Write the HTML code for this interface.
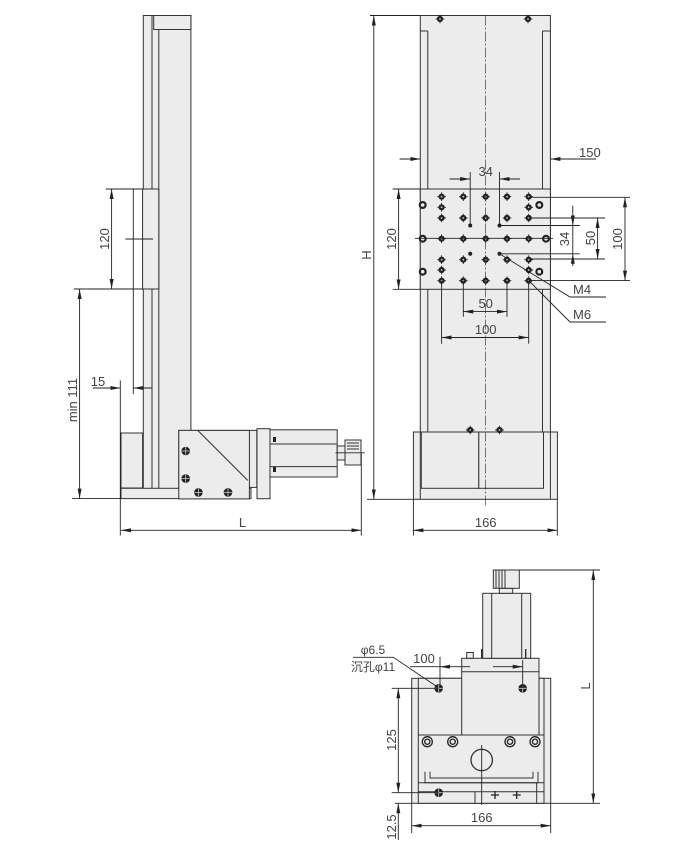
<!DOCTYPE html>
<html><head><meta charset="utf-8"><style>
html,body{margin:0;padding:0;background:#fff;}
svg{display:block;}
text{font-family:"Liberation Sans","Noto Sans CJK SC",sans-serif;font-size:13px;fill:#444;}
</style></head><body>
<svg width="675" height="845" viewBox="0 0 675 845" xmlns="http://www.w3.org/2000/svg">
<defs>
<marker id="a" viewBox="0 0 10 4" refX="10" refY="2" markerWidth="10" markerHeight="4" markerUnits="userSpaceOnUse" orient="auto-start-reverse"><path d="M0,0L10,2L0,4z" fill="#222"/></marker>
<g id="h"><circle r="3.1" fill="#222"/><path d="M-4.3,0H4.3M0,-4.3V4.3" stroke="#222" stroke-width="0.9"/><circle r="0.9" fill="#ccc"/></g>
<g id="r"><circle r="4" fill="#222"/><circle r="1.8" fill="#ececec"/></g>
<g id="s"><circle r="4.3" fill="#222"/><path d="M-4,0H4M0,-4V4" stroke="#ccc" stroke-width="0.8"/></g>
<g id="c"><circle r="5" fill="#ececec" stroke="#222" stroke-width="1.3"/><circle r="2.6" fill="none" stroke="#222" stroke-width="1.3"/></g>
</defs>
<g fill="#ececec" stroke="#333" stroke-width="1">
<!-- SIDE VIEW -->
<rect x="143.3" y="15.5" width="47.6" height="473"/>
<line x1="152" y1="15.5" x2="152" y2="488"/>
<line x1="158.8" y1="29" x2="158.8" y2="488"/>
<rect x="153.7" y="15.5" width="37.2" height="14"/>
<rect x="142.6" y="189" width="16.2" height="100"/>
<rect x="121" y="433" width="21.6" height="55"/>
<rect x="121" y="488.3" width="130" height="10.3"/>
<rect x="257" y="428.7" width="13" height="70"/>
<rect x="178.8" y="430.4" width="78" height="57"/>
<rect x="178.8" y="430.4" width="70.6" height="68.5"/>
<line x1="197.7" y1="430.4" x2="247.7" y2="480.4"/>
<rect x="270" y="429.8" width="67.2" height="47.2"/>
<line x1="270" y1="444" x2="337.2" y2="444"/>
<line x1="270" y1="466.6" x2="337.2" y2="466.6"/>
<rect x="337.2" y="446" width="8" height="14"/>
<rect x="345" y="440" width="16" height="25"/>
<line x1="347" y1="443" x2="359" y2="443"/><line x1="347" y1="446" x2="359" y2="446"/><line x1="347" y1="449" x2="359" y2="449"/>
<!-- FRONT VIEW -->
<rect x="420.3" y="15.5" width="130.1" height="473.5"/>
<line x1="427.8" y1="31" x2="427.8" y2="432"/>
<line x1="542.5" y1="31" x2="542.5" y2="432"/>
<line x1="420.3" y1="31" x2="427.8" y2="31"/><line x1="542.5" y1="31" x2="550.4" y2="31"/>
<rect x="420.3" y="189" width="130.1" height="100.3"/>
<rect x="413.4" y="432" width="144" height="67.3"/>
<rect x="421.3" y="432" width="57.5" height="56.3"/>
<rect x="478.8" y="432" width="64.7" height="56.3"/>
<line x1="420.3" y1="432" x2="420.3" y2="499.3"/><line x1="550.4" y1="432" x2="550.4" y2="499.3"/>
<!-- TOP VIEW -->
<rect x="411.7" y="678.3" width="139" height="125"/>
<rect x="418.3" y="678.3" width="125.7" height="125"/>
<rect x="461.7" y="658.3" width="77.3" height="76.7"/>
<line x1="461.7" y1="671.7" x2="539" y2="671.7"/>
<line x1="418.3" y1="735" x2="544" y2="735"/>
<path d="M425,771.7V782.7H538V771.7" fill="none"/>
<path d="M430,771.7V778H533V771.7" fill="none"/>
<line x1="418.3" y1="782.7" x2="544" y2="782.7"/>
<line x1="418.3" y1="791.7" x2="544" y2="791.7"/>
<line x1="475" y1="791.7" x2="475" y2="803.3"/>
<line x1="536.7" y1="782.7" x2="536.7" y2="803.3"/>
<rect x="482.7" y="593.3" width="48" height="65"/>
<line x1="491.7" y1="593.3" x2="491.7" y2="658.3"/><line x1="521.7" y1="593.3" x2="521.7" y2="658.3"/>
<rect x="499.3" y="588.3" width="13.4" height="5"/>
<rect x="493.3" y="570" width="26" height="18.3"/>
<line x1="496" y1="570" x2="496" y2="588"/><line x1="499" y1="570" x2="499" y2="588"/><line x1="502" y1="570" x2="502" y2="588"/><line x1="505" y1="570" x2="505" y2="588"/>
<rect x="466.7" y="652.5" width="6.6" height="5.8"/>
<circle cx="481.7" cy="760" r="10.7" fill="none" stroke-width="1.3"/>
</g>
<!-- holes -->
<use href="#s" x="185.7" y="451"/><use href="#s" x="185.7" y="478.6"/><use href="#s" x="198.4" y="492.4"/><use href="#s" x="228" y="492.4"/>
<rect x="273" y="437" width="3" height="5" fill="#222"/><rect x="273" y="467" width="3" height="5" fill="#222"/>
<use href="#h" x="440" y="19"/><use href="#h" x="528" y="19"/>
<g>
<use href="#h" x="441.6" y="196.7"/><use href="#h" x="463.3" y="196.7"/><use href="#h" x="485.7" y="196.7"/><use href="#h" x="507" y="196.7"/><use href="#h" x="528.7" y="196.7"/>
<use href="#h" x="441.6" y="207.3"/><use href="#h" x="528.7" y="207.3"/>
<use href="#h" x="441.6" y="218"/><use href="#h" x="463.3" y="218"/><use href="#h" x="485.7" y="218"/><use href="#h" x="507" y="218"/><use href="#h" x="528.7" y="218"/>
<use href="#h" x="441.6" y="238.7"/><use href="#h" x="463.3" y="238.7"/><use href="#h" x="485.7" y="238.7"/><use href="#h" x="507" y="238.7"/><use href="#h" x="528.7" y="238.7"/>
<use href="#h" x="441.6" y="259.7"/><use href="#h" x="463.3" y="259.7"/><use href="#h" x="485.7" y="259.7"/><use href="#h" x="507" y="259.7"/><use href="#h" x="528.7" y="259.7"/>
<use href="#h" x="441.6" y="270"/><use href="#h" x="528.7" y="270"/>
<use href="#h" x="441.6" y="280.7"/><use href="#h" x="463.3" y="280.7"/><use href="#h" x="485.7" y="280.7"/><use href="#h" x="507" y="280.7"/><use href="#h" x="528.7" y="280.7"/>
<use href="#r" x="422.7" y="205"/><use href="#r" x="539.3" y="205"/><use href="#r" x="422.7" y="271.7"/><use href="#r" x="539.3" y="271.7"/>
<use href="#r" x="422.7" y="238.7"/><use href="#r" x="546" y="238.7"/>
<circle cx="470.2" cy="225.5" r="2" fill="#222"/><circle cx="499.5" cy="225.5" r="2" fill="#222"/><circle cx="470.2" cy="253.8" r="2" fill="#222"/><circle cx="499.5" cy="253.8" r="2" fill="#222"/>
<use href="#h" x="470.2" y="430"/><use href="#h" x="499.5" y="430"/>
</g>
<use href="#c" x="427.3" y="741.7"/><use href="#c" x="452.7" y="741.7"/><use href="#c" x="510" y="741.7"/><use href="#c" x="535" y="741.7"/>
<use href="#s" x="438.7" y="688.3"/><use href="#s" x="522.7" y="688.3"/><use href="#s" x="438.7" y="792.7"/>
<path d="M491,795h8M495,791v8M512.7,795h8M516.7,791v8M481.7,649v9M525.7,649v9" stroke="#222" stroke-width="1.3"/>
<!-- dimension lines -->
<g stroke="#222" stroke-width="0.9" fill="none">
<line x1="105.8" y1="189" x2="142.6" y2="189"/><line x1="73.8" y1="289" x2="142.6" y2="289"/>
<line x1="111.6" y1="189" x2="111.6" y2="289" marker-start="url(#a)" marker-end="url(#a)"/>
<line x1="79.6" y1="289" x2="79.6" y2="498.6" marker-start="url(#a)" marker-end="url(#a)"/>
<line x1="72" y1="498.6" x2="121" y2="498.6"/>
<line x1="133.3" y1="189" x2="133.3" y2="394"/><line x1="125.4" y1="239" x2="153" y2="239"/>
<line x1="92.7" y1="388" x2="120.3" y2="388" marker-end="url(#a)"/>
<line x1="152" y1="388" x2="133.3" y2="388" marker-end="url(#a)"/>
<line x1="120.3" y1="380.5" x2="120.3" y2="535.5"/>
<line x1="121" y1="530.3" x2="361.3" y2="530.3" marker-start="url(#a)" marker-end="url(#a)"/>
<line x1="361.3" y1="454" x2="361.3" y2="535.5"/>
<line x1="335.5" y1="452.8" x2="364.7" y2="452.8"/>
<line x1="370" y1="15.5" x2="420" y2="15.5"/><line x1="367" y1="499.3" x2="413.4" y2="499.3"/>
<line x1="373.8" y1="15.5" x2="373.8" y2="499.3" marker-start="url(#a)" marker-end="url(#a)"/>
<line x1="485.7" y1="15.5" x2="485.7" y2="506" stroke-dasharray="10,2,2,2" stroke-width="0.6"/>
<line x1="415" y1="238.3" x2="553" y2="238.3"/>
<line x1="399.6" y1="159" x2="420.3" y2="159" marker-end="url(#a)"/>
<line x1="596" y1="159" x2="550.4" y2="159" marker-end="url(#a)"/>
<line x1="449.5" y1="179" x2="470.2" y2="179" marker-end="url(#a)"/>
<line x1="520" y1="179" x2="499.5" y2="179" marker-end="url(#a)"/>
<line x1="470.2" y1="172" x2="470.2" y2="225.5"/><line x1="499.5" y1="172" x2="499.5" y2="225.5"/>
<line x1="392.7" y1="189" x2="420.3" y2="189"/><line x1="392.7" y1="289.3" x2="420.3" y2="289.3"/>
<line x1="398.6" y1="189" x2="398.6" y2="289.3" marker-start="url(#a)" marker-end="url(#a)"/>
<line x1="528.7" y1="197.3" x2="630" y2="197.3"/><line x1="528.7" y1="280.6" x2="630" y2="280.6"/>
<line x1="625" y1="197.3" x2="625" y2="280.6" marker-start="url(#a)" marker-end="url(#a)"/>
<line x1="528.7" y1="218" x2="605" y2="218"/><line x1="528.7" y1="259" x2="605" y2="259"/>
<line x1="597.6" y1="218" x2="597.6" y2="259" marker-start="url(#a)" marker-end="url(#a)"/>
<line x1="499.5" y1="225.5" x2="579.7" y2="225.5"/><line x1="499.5" y1="253.8" x2="579.7" y2="253.8"/>
<line x1="572.8" y1="205.6" x2="572.8" y2="225.5" marker-end="url(#a)"/>
<line x1="572.8" y1="266" x2="572.8" y2="253.8" marker-end="url(#a)"/>
<line x1="572.8" y1="225.5" x2="572.8" y2="253.8"/>
<polyline points="499.5,253.8 570,297 606,297"/>
<polyline points="528.7,280.6 570,322 606,322"/>
<line x1="463.3" y1="280.6" x2="463.3" y2="316.8"/><line x1="507" y1="280.6" x2="507" y2="316.8"/>
<line x1="463.3" y1="311.6" x2="507" y2="311.6" marker-start="url(#a)" marker-end="url(#a)"/>
<line x1="441.6" y1="280.6" x2="441.6" y2="343.7"/><line x1="528.7" y1="280.6" x2="528.7" y2="343.7"/>
<line x1="441.6" y1="337.5" x2="528.7" y2="337.5" marker-start="url(#a)" marker-end="url(#a)"/>
<line x1="413.4" y1="499.3" x2="413.4" y2="535.5"/><line x1="557.3" y1="499.3" x2="557.3" y2="535.5"/>
<line x1="413.4" y1="530.3" x2="557.3" y2="530.3" marker-start="url(#a)" marker-end="url(#a)"/>
<!-- top view dims -->
<line x1="519.3" y1="570" x2="600" y2="570"/><line x1="550.7" y1="803.3" x2="600" y2="803.3"/>
<line x1="593.3" y1="570" x2="593.3" y2="803.3" marker-start="url(#a)" marker-end="url(#a)"/>
<line x1="440" y1="656.7" x2="440" y2="688"/><line x1="522.7" y1="660" x2="522.7" y2="688"/>
<line x1="410" y1="666.7" x2="440" y2="666.7"/>
<line x1="470" y1="666.7" x2="440" y2="666.7" marker-end="url(#a)"/>
<line x1="493" y1="666.7" x2="522.7" y2="666.7" marker-end="url(#a)"/>
<polyline points="353,657.3 393.3,657.3 436,686"/>
<line x1="391.7" y1="688.3" x2="438.7" y2="688.3"/><line x1="391.7" y1="792.7" x2="438.7" y2="792.7"/>
<line x1="395" y1="803.3" x2="411.7" y2="803.3"/>
<line x1="398.3" y1="688.3" x2="398.3" y2="792.7" marker-start="url(#a)" marker-end="url(#a)"/>
<line x1="398.3" y1="820" x2="398.3" y2="803.3" marker-end="url(#a)"/>
<line x1="398.3" y1="820" x2="398.3" y2="840"/>
<line x1="481.7" y1="745" x2="481.7" y2="805"/>
<line x1="411.7" y1="803.3" x2="411.7" y2="833"/><line x1="550.7" y1="803.3" x2="550.7" y2="833"/>
<line x1="411.7" y1="825.7" x2="550.7" y2="825.7" marker-start="url(#a)" marker-end="url(#a)"/>
</g>
<!-- labels -->
<text x="109" y="239" text-anchor="middle" transform="rotate(-90 109 239)">120</text>
<text x="77" y="400" text-anchor="middle" transform="rotate(-90 77 400)">min 111</text>
<text x="98" y="386" text-anchor="middle">15</text>
<text x="242.5" y="527" text-anchor="middle">L</text>
<text x="371" y="255" text-anchor="middle" transform="rotate(-90 371 255)">H</text>
<text x="579" y="157">150</text>
<text x="485.7" y="176" text-anchor="middle">34</text>
<text x="396" y="239" text-anchor="middle" transform="rotate(-90 396 239)">120</text>
<text x="569" y="239" text-anchor="middle" transform="rotate(-90 569 239)">34</text>
<text x="595" y="238" text-anchor="middle" transform="rotate(-90 595 238)">50</text>
<text x="622" y="239" text-anchor="middle" transform="rotate(-90 622 239)">100</text>
<text x="573" y="294">M4</text>
<text x="573" y="319">M6</text>
<text x="485.7" y="308" text-anchor="middle">50</text>
<text x="485.7" y="334" text-anchor="middle">100</text>
<text x="485.7" y="527" text-anchor="middle">166</text>
<text x="590" y="686" text-anchor="middle" transform="rotate(-90 590 686)">L</text>
<text x="373" y="654" text-anchor="middle" style="font-size:12px">φ6.5</text>
<text x="373" y="671" text-anchor="middle" style="font-size:12px">沉孔φ11</text>
<text x="424" y="663" text-anchor="middle">100</text>
<text x="396" y="740" text-anchor="middle" transform="rotate(-90 396 740)">125</text>
<text x="396" y="827" text-anchor="middle" transform="rotate(-90 396 827)">12.5</text>
<text x="481.7" y="822" text-anchor="middle">166</text>
</svg>
</body></html>
